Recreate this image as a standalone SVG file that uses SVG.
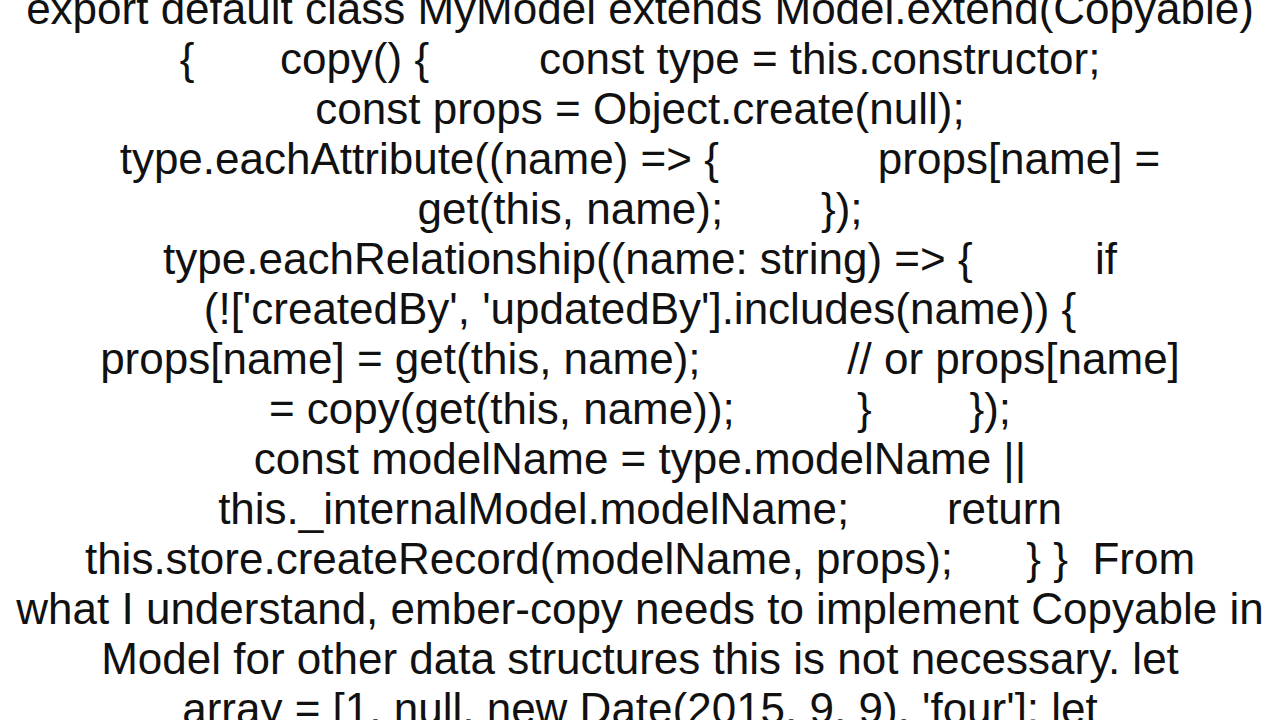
<svg xmlns="http://www.w3.org/2000/svg" width="1280" height="720" viewBox="0 0 1280 720">
<style>
text{font-family:"Liberation Sans",Arial,sans-serif;font-size:44px;fill:#111;text-anchor:middle;white-space:pre}
</style>
<rect width="1280" height="720" fill="#fff"/>
<g id="text" xml:space="preserve">
<text x="640" y="24">export default class MyModel extends Model.extend(Copyable)</text>
<text x="640" y="74">{       copy() {         const type = this.constructor;</text>
<text x="640" y="124">const props = Object.create(null);</text>
<text x="640" y="174">type.eachAttribute((name) =&gt; {             props[name] =</text>
<text x="640" y="224">get(this, name);        });</text>
<text x="640" y="274">type.eachRelationship((name: string) =&gt; {          if</text>
<text x="640" y="324">(!['createdBy', 'updatedBy'].includes(name)) {</text>
<text x="640" y="374">props[name] = get(this, name);            // or props[name]</text>
<text x="640" y="424">= copy(get(this, name));          }        });</text>
<text x="640" y="474">const modelName = type.modelName ||</text>
<text x="640" y="524">this._internalModel.modelName;        return</text>
<text x="640" y="574">this.store.createRecord(modelName, props);      } }  From</text>
<text x="640" y="624">what I understand, ember-copy needs to implement Copyable in</text>
<text x="640" y="674">Model for other data structures this is not necessary. let</text>
<text x="640" y="724">array = [1, null, new Date(2015, 9, 9), 'four']; let</text>
</g>
</svg>
